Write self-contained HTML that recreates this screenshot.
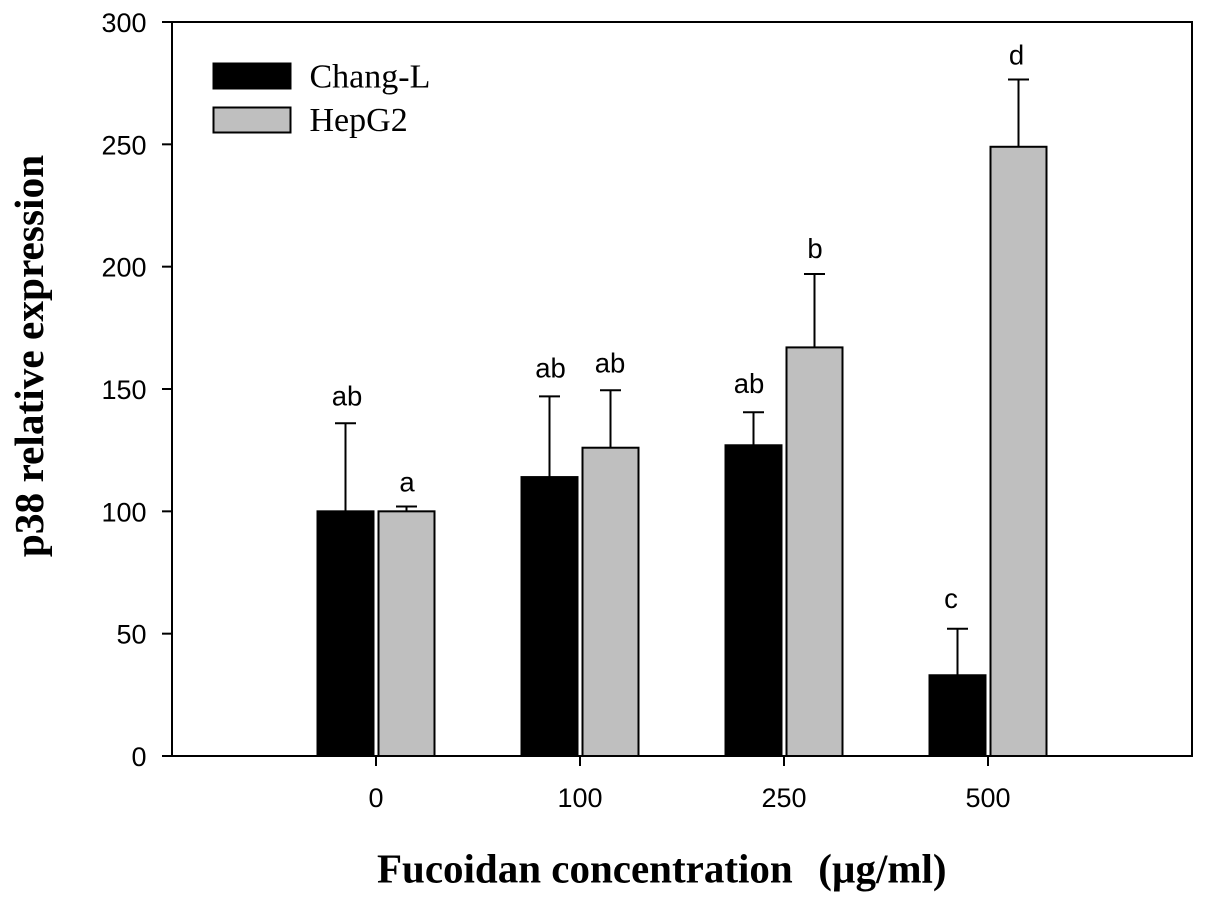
<!DOCTYPE html>
<html>
<head>
<meta charset="utf-8">
<title>p38 relative expression chart</title>
<style>
html,body{margin:0;padding:0;background:#fff;width:1205px;height:902px;overflow:hidden}
svg{display:block}
text{fill:#000}
.sans{font-family:"Liberation Sans",sans-serif}
.serif{font-family:"Liberation Serif",serif}
</style>
</head>
<body>
<svg id="chart" width="1205" height="902" viewBox="0 0 1205 902" xmlns="http://www.w3.org/2000/svg"></svg>
<script>
const categories = ['0', '100', '250', '500'];
const changValues = [100, 114, 127, 33];
const hepValues = [100, 126, 167, 249];
const changErrors = [36, 33, 13.5, 19];
const hepErrors = [2, 23.5, 30, 27.5];
const changLetters = ['ab', 'ab', 'ab', 'c'];
const hepLetters = ['a', 'ab', 'b', 'd'];
const yTicks = [0, 50, 100, 150, 200, 250, 300];

const svg = document.getElementById('chart');
const NS = 'http://www.w3.org/2000/svg';
const plot = {left: 172, right: 1192, top: 22, bottom: 756};
const yMax = 300;
const groupStart = 376;
const groupStep = 204;
const barWidth = 56;
const capHalf = 10.5;

// Hand-placed annotation offsets relative to each error cap (layout, not data).
const changNudge = [[1.5, 18], [1, 19], [-4.5, 19], [-6.5, 21]];
const hepNudge = [[0.5, 15], [-0.5, 17.5], [0.5, 16], [-2, 15]];

function y(v) { return plot.bottom - (v / yMax) * (plot.bottom - plot.top); }
function x(i) { return groupStart + i * groupStep; }

function make(tag, attrs, text) {
  const el = document.createElementNS(NS, tag);
  for (const k in attrs) el.setAttribute(k, attrs[k]);
  if (text !== undefined) el.textContent = text;
  svg.appendChild(el);
  return el;
}

function line(x1, y1, x2, y2, name, w) {
  const el = make('line', {x1, y1, x2, y2, stroke: '#000', 'stroke-width': w || 2});
  
  
  return el;
}

function drawBar(cx, value, err, fill, letter, name, nudge) {
  const top = y(value);
  const errTop = y(value + err);
  line(cx, top, cx, errTop, name + '-error-stem');
  line(cx - capHalf, errTop, cx + capHalf, errTop, name + '-error-cap');
  const bar = make('rect', {x: cx - barWidth / 2, y: top, width: barWidth, height: plot.bottom - top, fill, stroke: '#000', 'stroke-width': 2});
  
  
  const label = make('text', {x: cx + nudge[0], y: errTop - nudge[1], 'text-anchor': 'middle', class: 'sans', 'font-size': 27.5}, letter);
  
  
}

categories.forEach(function (c, i) {
  drawBar(x(i) - 30.5, changValues[i], changErrors[i], '#000', changLetters[i], 'bar-chang-l-' + c, changNudge[i]);
  drawBar(x(i) + 30.5, hepValues[i], hepErrors[i], '#bfbfbf', hepLetters[i], 'bar-hepg2-' + c, hepNudge[i]);
  line(x(i), plot.bottom, x(i), plot.bottom + 10, 'x-tick-' + c);
  const t = make('text', {x: x(i), y: 807, 'text-anchor': 'middle', class: 'sans', 'font-size': 27}, c);
  
  
});

const frame = make('rect', {x: plot.left, y: plot.top, width: plot.right - plot.left, height: plot.bottom - plot.top, fill: 'none', stroke: '#000', 'stroke-width': 2});



yTicks.forEach(function (v) {
  line(plot.left - 10, y(v), plot.left, y(v), 'y-tick-' + v);
  const t = make('text', {x: 146.5, y: y(v) + 10, 'text-anchor': 'end', class: 'sans', 'font-size': 27}, v);
  
  
});

const yTitle = make('text', {x: 0, y: 0, transform: 'translate(43 356) rotate(-90)', 'text-anchor': 'middle', class: 'serif', 'font-size': 41.3, 'font-weight': 'bold'}, 'p38 relative expression');



const xTitle = make('text', {x: 377, y: 882.5, 'text-anchor': 'start', class: 'serif', 'font-size': 41, 'font-weight': 'bold', style: 'white-space:pre'}, 'Fucoidan concentration  ');


const xTitleUnit = document.createElementNS(NS, 'tspan');
xTitleUnit.setAttribute('dx', '5');
xTitleUnit.textContent = '(µg/ml)';


xTitle.appendChild(xTitleUnit);

const legendSwatch1 = make('rect', {x: 213.5, y: 63.5, width: 77, height: 25, fill: '#000', stroke: '#000', 'stroke-width': 2});


const legendText1 = make('text', {x: 309.5, y: 87.3, class: 'serif', 'font-size': 34}, 'Chang-L');


const legendSwatch2 = make('rect', {x: 213.5, y: 107.5, width: 77, height: 25, fill: '#bfbfbf', stroke: '#000', 'stroke-width': 2});


const legendText2 = make('text', {x: 309.5, y: 131, class: 'serif', 'font-size': 34}, 'HepG2');


</script>
</body>
</html>
